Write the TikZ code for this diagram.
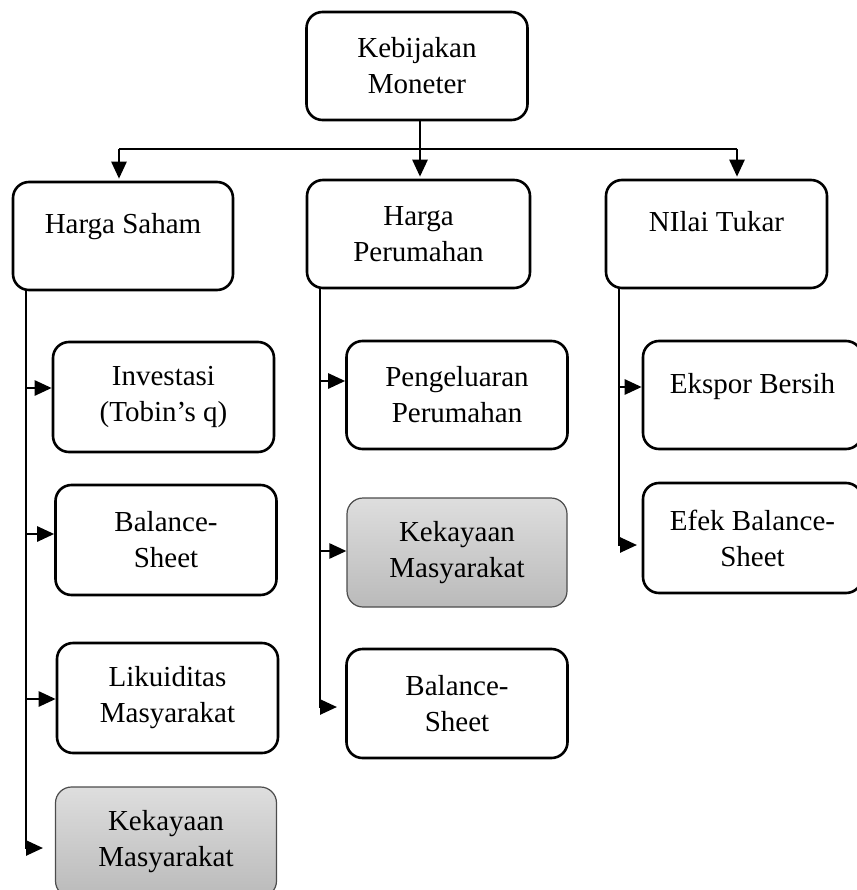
\documentclass[tikz,border=0pt]{standalone}
\usepackage{fontspec}
\setmainfont{Liberation Serif}
\usetikzlibrary{arrows.meta}

\tikzset{
  box/.style={draw, line width=2.6pt, rounded corners=16pt, align=center,
    inner sep=0pt, minimum width=221pt, minimum height=108pt,
    font=\fontsize{29}{36}\selectfont},
  shadebox/.style={box, draw=black!70, line width=1.2pt,
    top color=black!13, bottom color=black!27},
  oneline/.style={text height=20pt, text depth=24pt},
  link/.style={line width=2.6pt},
  arr/.style={link, -{Triangle[length=17pt,width=15pt]}}
}

\begin{document}
\begin{tikzpicture}[x=1pt,y=-1pt]
  \useasboundingbox (0,0) rectangle (856,890);

  % top level
  \node[box] (kebijakan) at (417,66) {Kebijakan\\Moneter};

  % channels
  \node[box, oneline, minimum width=220pt] (saham) at (123,236) {Harga Saham};
  \node[box, minimum width=223pt] (perumahan) at (418.5,234) {Harga\\Perumahan};
  \node[box, oneline] (tukar) at (716.5,234) {NIlai Tukar};

  % stock price channel
  \node[box, minimum height=110pt] (investasi) at (163.5,397) {Investasi\\(Tobin’s q)};
  \node[box, minimum height=110pt] (bsA) at (166,540) {Balance-\\Sheet};
  \node[box, minimum height=110pt] (likuid) at (167.5,698) {Likuiditas\\Masyarakat};
  \node[shadebox, minimum height=110pt] (kayaA) at (166,842) {Kekayaan\\Masyarakat};

  % housing price channel
  \node[box] (pengeluaran) at (457,395) {Pengeluaran\\Perumahan};
  \node[shadebox, minimum width=220pt, minimum height=109pt] (kayaB) at (457,552.5) {Kekayaan\\Masyarakat};
  \node[box, minimum height=109pt] (bsB) at (457,703.5) {Balance-\\Sheet};

  % exchange rate channel
  \node[box, oneline, minimum width=219pt] (ekspor) at (752.5,395) {Ekspor Bersih};
  \node[box, minimum width=219pt, minimum height=110pt] (efek) at (752.5,538) {Efek Balance-\\Sheet};

  % branching from the top box
  \coordinate (jm) at (420,149);
  \coordinate (jl) at (119,149);
  \coordinate (jr) at (737,149);
  \draw[link] (kebijakan.south -| jm) -- (jm);
  \draw[link] (jl) -- (jr);
  \draw[arr, shorten >=2pt] (jl) -- (saham.north -| jl);
  \draw[arr, shorten >=2pt] (jm) -- (perumahan.north -| jm);
  \draw[arr, shorten >=2pt] (jr) -- (tukar.north -| jr);

  % left trunk
  \coordinate (l1) at (26,388);
  \coordinate (l2) at (26,534);
  \coordinate (l3) at (26,699);
  \coordinate (l4) at (26,848);
  \coordinate (l4t) at (43,848);
  \draw[arr] (saham.south -| l4) -- (l4) -- (l4t);
  \draw[arr] (l1) -- (l1 -| investasi.west);
  \draw[arr] (l2) -- (l2 -| bsA.west);
  \draw[arr] (l3) -- (l3 -| likuid.west);

  % middle trunk
  \coordinate (m1) at (320,381);
  \coordinate (m2) at (320,551);
  \coordinate (m3) at (320,707);
  \coordinate (m3t) at (337,707);
  \draw[arr] (perumahan.south -| m3) -- (m3) -- (m3t);
  \draw[arr] (m1) -- (m1 -| pengeluaran.west);
  \draw[arr] (m2) -- (m2 -| kayaB.west);

  % right trunk
  \coordinate (r1) at (619,387);
  \coordinate (r2) at (619,545);
  \coordinate (r2t) at (637,545);
  \draw[arr] (tukar.south -| r2) -- (r2) -- (r2t);
  \draw[arr] (r1) -- (r1 -| ekspor.west);
\end{tikzpicture}
\end{document}
